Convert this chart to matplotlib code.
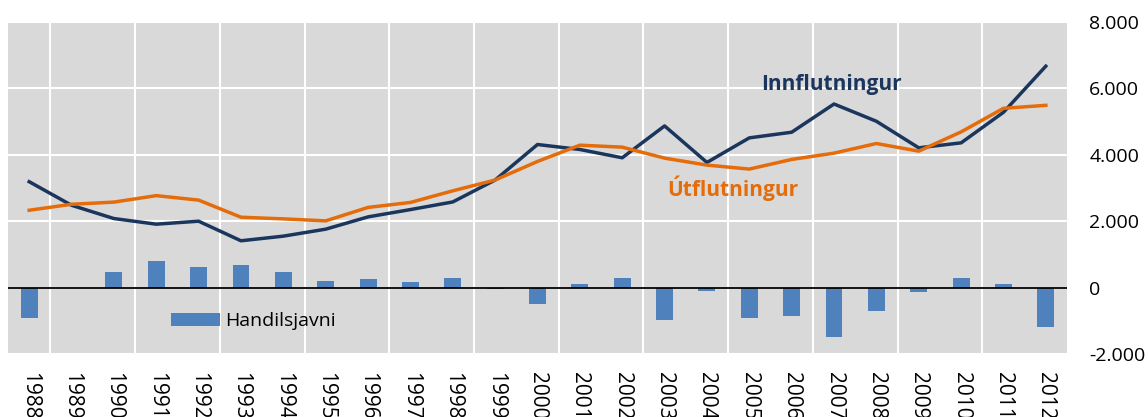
"""Inn- og útflutningur 1988-2012 með handilsjavna (súlur)."""
import matplotlib
matplotlib.use("Agg")
import matplotlib.pyplot as plt
import numpy as np
from matplotlib.ticker import FuncFormatter

years = list(range(1988, 2013))
innflutningur = [3190, 2480, 2080, 1910, 2000, 1410, 1550, 1760, 2130, 2350,
                 2580, 3240, 4310, 4160, 3910, 4870, 3770, 4510, 4680, 5530,
                 5010, 4210, 4360, 5280, 6670]
utflutningur = [2330, 2510, 2575, 2770, 2635, 2120, 2070, 2010, 2415, 2565,
                2915, 3240, 3800, 4290, 4230, 3900, 3690, 3570, 3860, 4050,
                4340, 4110, 4690, 5400, 5490]
handilsjavni = [-910, -10, 460, 810, 610, 680, 480, 200, 250, 165,
                295, -50, -505, 105, 277, -980, -95, -930, -850, -1500,
                -710, -145, 295, 95, -1200]

NAVY = "#1B365D"
ORANGE = "#E46C0A"
BLUE = "#4F81BD"

plt.rcParams["font.family"] = ["Open Sans", "DejaVu Sans"]

fig = plt.figure(figsize=(11.48, 4.17), dpi=100)
ax = fig.add_axes([8 / 1148, 1 - 354 / 417, 1059 / 1148, 332 / 417])
ax.set_facecolor("#D9D9D9")

x = np.arange(len(years))
ax.bar(x, handilsjavni, width=0.4, color=BLUE, label="Handilsjavni", zorder=2)
ax.axhline(0, color="black", lw=1.3, zorder=3)
ax.plot(x, innflutningur, color=NAVY, lw=2.5, zorder=4)
ax.plot(x, utflutningur, color=ORANGE, lw=2.5, zorder=4)

ax.text(17.28, 5950, "Innflutningur", color=NAVY, fontsize=15,
        fontweight="bold", ha="left", va="baseline", zorder=5)
ax.text(15.06, 2760, "Útflutningur", color=ORANGE, fontsize=15,
        fontweight="bold", ha="left", va="baseline", zorder=5)

ax.set_xlim(-0.5, len(years) - 0.5)
ax.set_ylim(-2000, 8000)
ax.set_yticks(range(-2000, 8001, 2000))
ax.yaxis.set_major_formatter(FuncFormatter(lambda v, p: f"{int(v):,}".replace(",", ".")))
ax.yaxis.tick_right()
ax.tick_params(axis="y", length=0, pad=16, labelsize=14)

# year labels run off the bottom edge, as in the original
ax.set_xticks(x)
ax.set_xticklabels([str(y) for y in years], rotation=-90)
ax.set_xticks(np.arange(0.5, len(years) - 1, 2), minor=True)
ax.tick_params(axis="x", which="both", length=0, pad=13, labelsize=15)

ax.grid(axis="y", which="major", color="white", lw=1.5, zorder=1)
ax.grid(axis="x", which="minor", color="white", lw=1.5, zorder=1)
ax.set_axisbelow(True)
for s in ax.spines.values():
    s.set_visible(False)

ax.legend(loc="center left", bbox_to_anchor=(0.154, 0.098), frameon=False,
          fontsize=14, handlelength=2.5, handleheight=0.65, handletextpad=0.3,
          borderpad=0, borderaxespad=0)

fig.savefig("out.png", dpi=100)
